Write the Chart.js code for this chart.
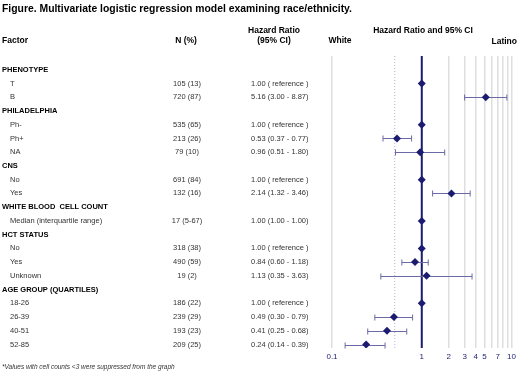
<!DOCTYPE html>
<html>
<head>
<meta charset="utf-8">
<script src="https://cdn.jsdelivr.net/npm/chart.js@4/dist/chart.umd.min.js"></script>
<style>
  html, body { margin: 0; padding: 0; background: #fff; }
  canvas { display: block; }
</style>
</head>
<body>
<canvas id="forestChart" width="520" height="374"></canvas>
<script>
// rows top to bottom; header rows have no estimate
const factors = ["PHENOTYPE", "T", "B", "PHILADELPHIA", "Ph-", "Ph+", "NA", "CNS", "No", "Yes",
  "WHITE BLOOD  CELL COUNT", "Median (interquartile range)", "HCT STATUS", "No", "Yes", "Unknown",
  "AGE GROUP (QUARTILES)", "18-26", "26-39", "40-51", "52-85"];
const isHeader = [true, false, false, true, false, false, false, true, false, false,
  true, false, true, false, false, false, true, false, false, false, false];
const counts = ["", "105 (13)", "720 (87)", "", "535 (65)", "213 (26)", "79 (10)", "", "691 (84)", "132 (16)",
  "", "17 (5-67)", "", "318 (38)", "490 (59)", "19 (2)", "", "186 (22)", "239 (29)", "193 (23)", "209 (25)"];
const hrText = ["", "1.00 ( reference )", "5.16 (3.00 - 8.87)", "", "1.00 ( reference )", "0.53 (0.37 - 0.77)",
  "0.96 (0.51 - 1.80)", "", "1.00 ( reference )", "2.14 (1.32 - 3.46)", "", "1.00 (1.00 - 1.00)", "",
  "1.00 ( reference )", "0.84 (0.60 - 1.18)", "1.13 (0.35 - 3.63)", "", "1.00 ( reference )",
  "0.49 (0.30 - 0.79)", "0.41 (0.25 - 0.68)", "0.24 (0.14 - 0.39)"];
const hr = [null, 1, 5.16, null, 1, 0.53, 0.96, null, 1, 2.14, null, 1, null, 1, 0.84, 1.13, null, 1, 0.49, 0.41, 0.24];
const ciLow = [null, null, 3.00, null, null, 0.37, 0.51, null, null, 1.32, null, 1.00, null, null, 0.60, 0.35, null, null, 0.30, 0.25, 0.14];
const ciHigh = [null, null, 8.87, null, null, 0.77, 1.80, null, null, 3.46, null, 1.00, null, null, 1.18, 3.63, null, null, 0.79, 0.68, 0.39];
const gridTicks = [0.1, 0.5, 1, 2, 3, 4, 5, 6, 7, 8, 9, 10];
const labelTicks = [0.1, 1, 2, 3, 4, 5, 7, 10];

const NAVY = "#1b1b6f";
const FONT = "'Liberation Sans', Arial, sans-serif";

const points = [];
hr.forEach((v, i) => { if (v !== null) points.push({ x: v, y: i }); });

// error bars + table text, drawn with the chart's own scales
const forestPlugin = {
  id: "forest",
  beforeDatasetsDraw(chart) {
    const { ctx, scales: { x, y }, chartArea } = chart;
    ctx.save();
    // dotted line at 0.5
    const px = x.getPixelForValue(0.5);
    ctx.strokeStyle = "#b4b4cc";
    ctx.lineWidth = 1;
    ctx.setLineDash([1, 2]);
    ctx.beginPath();
    ctx.moveTo(px, chartArea.top);
    ctx.lineTo(px, chartArea.bottom);
    ctx.stroke();
    ctx.setLineDash([]);
    // navy line at 1
    const p1 = x.getPixelForValue(1);
    ctx.strokeStyle = NAVY;
    ctx.lineWidth = 2;
    ctx.beginPath();
    ctx.moveTo(p1, chartArea.top);
    ctx.lineTo(p1, chartArea.bottom);
    ctx.stroke();
    // CI bars
    ctx.strokeStyle = "#6a6aa6";
    ctx.lineWidth = 1;
    ciLow.forEach((lo, i) => {
      if (lo === null) return;
      const yy = Math.round(y.getPixelForValue(i)) + 0.5;
      const x0 = x.getPixelForValue(lo);
      const x1 = x.getPixelForValue(ciHigh[i]);
      ctx.beginPath();
      ctx.moveTo(x0, yy); ctx.lineTo(x1, yy);
      ctx.moveTo(x0, yy - 3); ctx.lineTo(x0, yy + 3);
      ctx.moveTo(x1, yy - 3); ctx.lineTo(x1, yy + 3);
      ctx.stroke();
    });
    ctx.restore();
  },
  afterDraw(chart) {
    const { ctx, scales: { y } } = chart;
    ctx.save();
    ctx.fillStyle = "#000";
    ctx.textBaseline = "middle";
    ctx.textAlign = "left";
    ctx.font = "bold 11px " + FONT;
    ctx.fillText("Figure. Multivariate logistic regression model examining race/ethnicity.", 2, 9, 350);

    ctx.font = "bold 8.5px " + FONT;
    ctx.fillText("Factor", 2, 41);
    ctx.textAlign = "center";
    ctx.fillText("N (%)", 186, 41);
    ctx.fillText("Hazard Ratio", 274, 31);
    ctx.fillText("(95% CI)", 274, 41);
    ctx.fillText("Hazard Ratio and 95% CI", 423, 31);
    ctx.fillText("White", 340, 41);
    ctx.textAlign = "right";
    ctx.fillText("Latino", 517, 42);

    factors.forEach((f, i) => {
      const yy = y.getPixelForValue(i);
      ctx.fillStyle = isHeader[i] ? "#000" : "#333";
      ctx.font = (isHeader[i] ? "bold " : "") + "7.5px " + FONT;
      ctx.textAlign = "left";
      ctx.fillText(f, isHeader[i] ? 2 : 10, yy);
      if (counts[i]) {
        ctx.textAlign = "center";
        ctx.fillText(counts[i], 187, yy);
      }
      if (hrText[i]) {
        ctx.textAlign = "left";
        ctx.fillText(hrText[i], 251, yy);
      }
    });

    ctx.fillStyle = "#333";
    ctx.textAlign = "left";
    ctx.font = "italic 6.5px " + FONT;
    ctx.fillText("*Values with cell counts <3 were suppressed from the graph", 2, 367);
    ctx.restore();
  },
};

new Chart(document.getElementById("forestChart"), {
  type: "scatter",
  data: {
    datasets: [{
      data: points,
      pointStyle: "rectRot",
      pointRadius: 4,
      pointHoverRadius: 4,
      backgroundColor: NAVY,
      borderWidth: 0,
    }],
  },
  options: {
    responsive: false,
    animation: false,
    layout: { padding: { left: 332, right: 6, top: 56, bottom: 0 } },
    plugins: { legend: { display: false }, tooltip: { enabled: false } },
    scales: {
      x: {
        type: "logarithmic",
        min: 0.1,
        max: 10,
        afterBuildTicks: (scale) => { scale.ticks = gridTicks.map((v) => ({ value: v })); },
        afterFit: (scale) => { scale.height = 26; },
        grid: {
          drawTicks: false,
          color: (c) => ([0.5, 1].includes(c.tick && c.tick.value) ? "rgba(0,0,0,0)" : "#dedede"),
          lineWidth: 1.5,
        },
        border: { display: false },
        ticks: {
          autoSkip: false,
          maxRotation: 0,
          padding: 4,
          color: NAVY,
          font: { family: FONT, size: 8 },
          callback: (v) => (labelTicks.includes(v) ? String(v) : ""),
        },
      },
      y: {
        type: "linear",
        display: false,
        reverse: true,
        min: -1,
        max: 20.25,
      },
    },
  },
  plugins: [forestPlugin],
});
</script>
</body>
</html>
